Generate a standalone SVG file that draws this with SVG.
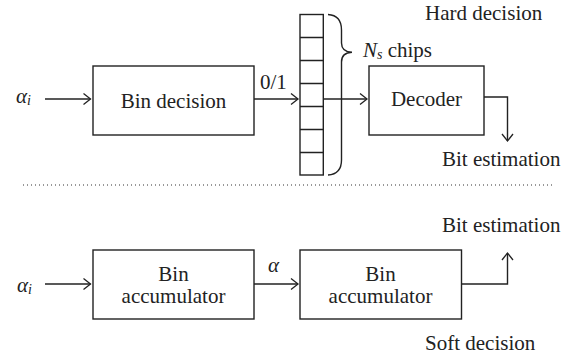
<svg xmlns="http://www.w3.org/2000/svg" width="572" height="360" viewBox="0 0 572 360">
  <style>
    text { font-family: "Liberation Serif", "Times New Roman", "DejaVu Serif", serif; font-size: 21px; fill: #222; }
    .box { fill: #fff; stroke: #222; stroke-width: 1.4; }
    .wire { fill: none; stroke: #222; stroke-width: 1.4; }
    .mid { text-anchor: middle; }
    .it { font-style: italic; }
  </style>
  <defs>
    <marker id="arrow" markerWidth="10" markerHeight="14" refX="8" refY="7" orient="auto" markerUnits="userSpaceOnUse">
      <path d="M1,1.5 L8,7 L1,12.5" fill="none" stroke="#222" stroke-width="1.3"/>
    </marker>
  </defs>
  <rect width="572" height="360" fill="#fff"/>

  <!-- hard decision chain -->
  <g id="hard-input">
    <text x="16" y="103" class="it">α<tspan font-size="14" dy="2">i</tspan></text>
  </g>
  <g id="bin-decision">
    <rect class="box" x="93" y="66" width="161" height="69"/>
    <text x="173.5" y="108" class="mid">Bin decision</text>
  </g>
  <g id="chip-register">
    <rect class="box" x="300" y="14.5" width="23.3" height="160.5"/>
    <path class="wire" d="M300,37.5H323.3M300,60.5H323.3M300,83.5H323.3M300,106.5H323.3M300,129.5H323.3M300,152.5H323.3"/>
    <path class="wire" d="M328,14.5 C336,15 341.5,20 341.5,30 L341.5,43 C341.5,49 345,52 352,52.3 C345,52.6 341.5,56 341.5,62 L341.5,160 C341.5,170 336,174.5 328,175"/>
    <text x="363" y="57" class="it">N<tspan font-size="14" dy="2">s</tspan><tspan dy="-2" font-style="normal"> chips</tspan></text>
  </g>
  <g id="decoder">
    <rect class="box" x="369" y="66" width="115" height="69"/>
    <text x="426.5" y="106" class="mid">Decoder</text>
  </g>
  <g id="hard-labels">
    <text x="425" y="20">Hard decision</text>
    <text x="442" y="166">Bit estimation</text>
  </g>

  <!-- separator -->
  <line x1="23" y1="185" x2="552" y2="185" stroke="#333" stroke-width="1" stroke-dasharray="1 3"/>

  <!-- soft decision chain -->
  <g id="soft-input">
    <text x="17" y="292" class="it">α<tspan font-size="14" dy="2">i</tspan></text>
  </g>
  <g id="bin-accumulator-1">
    <rect class="box" x="93" y="250" width="161" height="69"/>
    <text x="173.5" y="281" class="mid">Bin</text>
    <text x="173.5" y="303" class="mid">accumulator</text>
  </g>
  <g id="bin-accumulator-2">
    <rect class="box" x="300" y="250" width="161.5" height="69"/>
    <text x="380.5" y="281" class="mid">Bin</text>
    <text x="380.5" y="303" class="mid">accumulator</text>
  </g>
  <g id="soft-labels">
    <text x="442" y="232">Bit estimation</text>
    <text x="425" y="350">Soft decision</text>
  </g>

  <!-- connectors -->
  <g id="connectors">
    <line class="wire" x1="45" y1="99" x2="90.5" y2="99" marker-end="url(#arrow)"/>
    <line class="wire" x1="254" y1="99" x2="298" y2="99" marker-end="url(#arrow)"/>
    <text x="260" y="89">0/1</text>
    <line class="wire" x1="323.3" y1="99" x2="367" y2="99" marker-end="url(#arrow)"/>
    <polyline class="wire" points="484,97 507.5,97 507.5,141" marker-end="url(#arrow)"/>

    <line class="wire" x1="45" y1="284" x2="90.5" y2="284" marker-end="url(#arrow)"/>
    <line class="wire" x1="254" y1="284" x2="298" y2="284" marker-end="url(#arrow)"/>
    <text x="268" y="272" class="it">α</text>
    <polyline class="wire" points="461.5,284 507.5,284 507.5,253" marker-end="url(#arrow)"/>
  </g>
</svg>
